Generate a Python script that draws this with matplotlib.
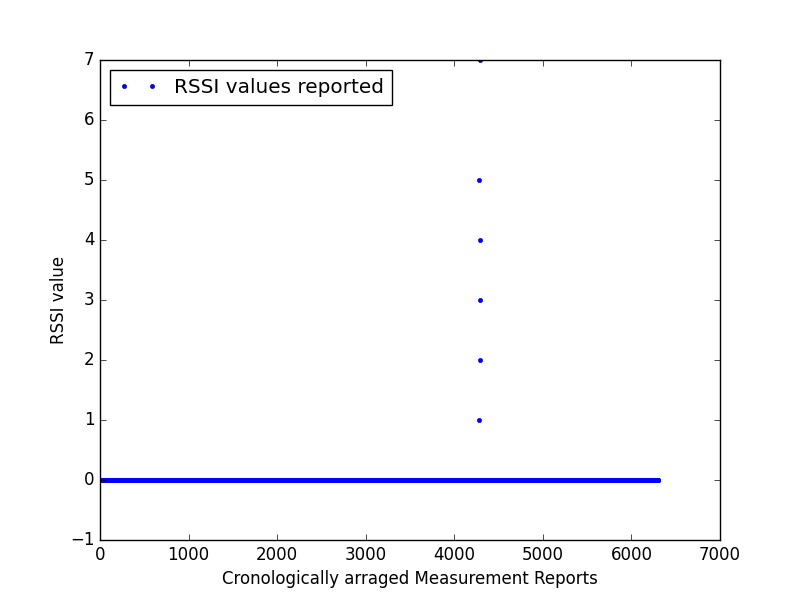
import numpy as np
import matplotlib
matplotlib.use("Agg")
import matplotlib.pyplot as plt

plt.style.use("classic")

# Data
n_reports = 6300                      # number of measurement reports
outlier_index = [4281, 4292, 4293, 4294, 4282, 4295]
outlier_value = [1, 2, 3, 4, 5, 7]

x = np.arange(n_reports)
rssi = np.zeros(n_reports)
for i, v in zip(outlier_index, outlier_value):
    rssi[i] = v

fig = plt.figure(figsize=(8, 6), dpi=100)
ax = fig.add_subplot(111)
ax.plot(x, rssi, "b.", label="RSSI values reported")
ax.set_xlim(0, 7000)
ax.set_ylim(-1, 7)
ax.set_xlabel("Cronologically arraged Measurement Reports")
ax.set_ylabel("RSSI value", labelpad=1.4)
ax.legend(loc="upper left", numpoints=2)
fig.savefig("out.png", dpi=100)
